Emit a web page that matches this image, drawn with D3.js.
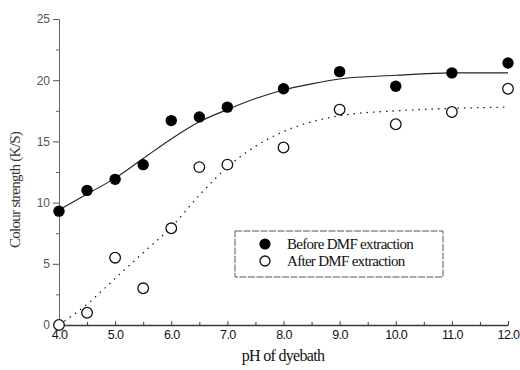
<!DOCTYPE html>
<html>
<head>
<meta charset="utf-8">
<script src="https://cdn.jsdelivr.net/npm/d3@7"></script>
<style>
  html, body { margin: 0; padding: 0; background: #fff; }
  svg { display: block; }
</style>
</head>
<body>
<svg id="chart" width="520" height="370"></svg>
<script>
// pH of the dyebath for each measurement
const phValues = [4.0, 4.5, 5.0, 5.5, 6.0, 6.5, 7.0, 8.0, 9.0, 10.0, 11.0, 12.0];
// Colour strength (K/S) measured before and after DMF extraction
const beforeDMF = [9.3, 11.0, 11.9, 13.1, 16.7, 17.0, 17.8, 19.3, 20.7, 19.5, 20.6, 21.4];
const afterDMF  = [0.0, 1.0, 5.5, 3.0, 7.9, 12.9, 13.1, 14.5, 17.6, 16.4, 17.4, 19.3];

// Fitted trend curves
const fitPh     = [4.0, 4.5, 5.0, 5.5, 6.0, 6.5, 7.0, 7.5, 8.0, 8.5, 9.0, 10.0, 11.0, 12.0];
const fitBefore = [9.4, 10.7, 12.0, 13.6, 15.2, 16.6, 17.6, 18.5, 19.2, 19.7, 20.1, 20.4, 20.6, 20.6];
const fitAfter  = [0.0, 1.7, 3.8, 5.9, 8.0, 10.6, 12.9, 14.6, 15.8, 16.6, 17.1, 17.5, 17.7, 17.8];

// Axis ticks
const xTicks = [4, 5, 6, 7, 8, 9, 10, 11, 12];
const xTickLabels = ["4.0", "5.0", "6.0", "7.0", "8.0", "9.0", "10.0", "11.0", "12.0"];
const yTicks = [0, 5, 10, 15, 20, 25];
const seriesNames = ["Before DMF extraction", "After DMF extraction"];

const svg = d3.select("#chart");
const x = d3.scaleLinear().domain([4, 12]).range([59, 508]);
const y = d3.scaleLinear().domain([0, 25]).range([325, 19]);

const axisColor = "#3a3a3a";

// y axis
const yAxis = svg.append("g").attr("transform", `translate(${x(4)},0)`)
  .call(d3.axisLeft(y).tickValues(yTicks).tickSize(6).tickPadding(3).tickFormat(d3.format("d")));
yAxis.select(".domain").attr("stroke", "#666").attr("stroke-width", 1);
yAxis.selectAll(".tick line").attr("stroke", "#555");
yAxis.selectAll(".tick text")
  .attr("font-family", "Liberation Sans, Arial, sans-serif")
  .attr("font-size", 12).attr("fill", "#555");
// minor y ticks
svg.append("g").attr("transform", `translate(${x(4)},0)`)
  .call(d3.axisLeft(y).tickValues(d3.range(2.5, 25, 5)).tickSize(3).tickFormat(""))
  .call(g => g.select(".domain").remove())
  .selectAll(".tick line").attr("stroke", "#666");

// x axis: ticks point into the plot
const xAxis = svg.append("g").attr("transform", `translate(0,${y(0)})`)
  .call(d3.axisBottom(x).tickValues(xTicks).tickSizeInner(-4).tickSizeOuter(0).tickPadding(5)
    .tickFormat((d, i) => xTickLabels[i]));
xAxis.select(".domain").attr("stroke", axisColor).attr("stroke-width", 1.3);
xAxis.selectAll(".tick line").attr("stroke", axisColor);
xAxis.selectAll(".tick text")
  .attr("font-family", "Liberation Sans, Arial, sans-serif")
  .attr("font-size", 12.5).attr("letter-spacing", -0.6).attr("fill", "#111");
svg.append("g").attr("transform", `translate(0,${y(0)})`)
  .call(d3.axisBottom(x).tickValues(d3.range(4.5, 12, 1)).tickSizeInner(-3).tickSizeOuter(0).tickFormat(""))
  .call(g => g.select(".domain").remove())
  .selectAll(".tick line").attr("stroke", axisColor);

// fitted curves
const line = d3.line().x(d => x(d[0])).y(d => y(d[1])).curve(d3.curveMonotoneX);
svg.append("path")
  .datum(fitPh.map((p, i) => [p, fitBefore[i]]))
  .attr("d", line).attr("fill", "none").attr("stroke", "#222").attr("stroke-width", 1.1);
svg.append("path")
  .datum(fitPh.map((p, i) => [p, fitAfter[i]]))
  .attr("d", line).attr("fill", "none").attr("stroke", "#222").attr("stroke-width", 1.3)
  .attr("stroke-dasharray", "1.5,5");

// data points
const r = 5.3;
svg.append("g").selectAll("circle")
  .data(phValues.map((p, i) => [p, afterDMF[i]]))
  .join("circle")
  .attr("cx", d => x(d[0])).attr("cy", d => y(d[1])).attr("r", r)
  .attr("fill", "#fff").attr("stroke", "#111").attr("stroke-width", 1.3);
svg.append("g").selectAll("circle")
  .data(phValues.map((p, i) => [p, beforeDMF[i]]))
  .join("circle")
  .attr("cx", d => x(d[0])).attr("cy", d => y(d[1])).attr("r", r + 0.4)
  .attr("fill", "#000");

// legend
const legend = svg.append("g").attr("transform", "translate(235,231)");
legend.append("rect").attr("width", 208).attr("height", 46)
  .attr("fill", "#fff").attr("stroke", "#444").attr("stroke-width", 0.9)
  .attr("stroke-dasharray", "7,1.5");
const items = legend.selectAll("g.item").data(seriesNames).join("g")
  .attr("transform", (d, i) => `translate(30,${13 + i * 17})`);
items.append("circle").attr("r", (d, i) => i === 0 ? 5.6 : 5)
  .attr("fill", (d, i) => i === 0 ? "#000" : "#fff")
  .attr("stroke", "#111").attr("stroke-width", (d, i) => i === 0 ? 0 : 1.3);
items.append("text").attr("x", 22).attr("y", 5).text(d => d)
  .attr("font-family", "Liberation Serif, Times New Roman, serif")
  .attr("font-size", 15).attr("letter-spacing", -0.7).attr("fill", "#111");

// axis titles
svg.append("text").attr("x", 283).attr("y", 361).attr("text-anchor", "middle")
  .attr("font-family", "Liberation Serif, Times New Roman, serif")
  .attr("font-size", 16).attr("letter-spacing", -0.7).attr("fill", "#111")
  .text("pH of dyebath");
svg.append("text").attr("transform", "translate(20,190) rotate(-90)").attr("text-anchor", "middle")
  .attr("font-family", "Liberation Serif, Times New Roman, serif")
  .attr("font-size", 15).attr("letter-spacing", -0.7).attr("fill", "#333")
  .text("Colour strength (K/S)");
</script>
</body>
</html>
